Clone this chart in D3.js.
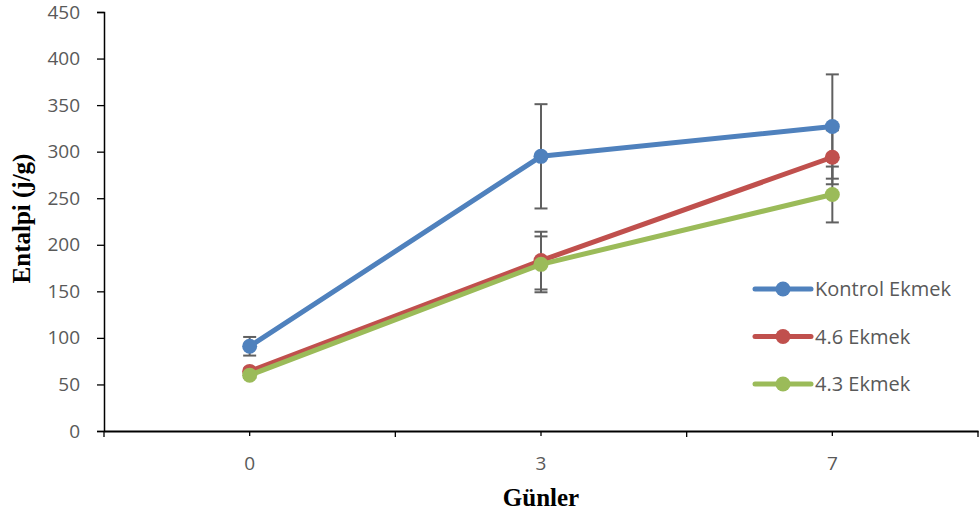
<!DOCTYPE html>
<html>
<head>
<meta charset="utf-8">
<script src="https://cdn.jsdelivr.net/npm/d3@7"></script>
<style>
  html, body { margin: 0; padding: 0; background: #fff; }
</style>
</head>
<body>
<div id="chart"></div>
<script>
// data
var days = ["0", "3", "7"];
var seriesNames = ["Kontrol Ekmek", "4.6 Ekmek", "4.3 Ekmek"];
var kontrolValues = [91, 295, 327];
var kontrolErrors = [10, 56, 56];
var ekmek46Values = [64, 183, 294];
var ekmek46Errors = [3, 31, 29];
var ekmek43Values = [60, 179, 254];
var ekmek43Errors = [3, 30, 30];
var yTicks = [0, 50, 100, 150, 200, 250, 300, 350, 400, 450];

var colors = ["#4f81bd", "#c0504d", "#9bbb59"];

var series = [
    { name: seriesNames[0], values: kontrolValues, errors: kontrolErrors, color: colors[0] },
    { name: seriesNames[1], values: ekmek46Values, errors: ekmek46Errors, color: colors[1] },
    { name: seriesNames[2], values: ekmek43Values, errors: ekmek43Errors, color: colors[2] }
];

var width = 980, height = 515;
var plotLeft = 104, plotRight = 978, plotTop = 12, plotBottom = 431;

var svg = d3.select("#chart")
    .append("svg")
    .attr("width", width)
    .attr("height", height)
    .style("font-family", "'Open Sans', 'Liberation Sans', sans-serif");

// scales
var xScale = d3.scaleBand().domain(days).range([plotLeft, plotRight]).padding(0);
var xPos = function (d) { return xScale(d) + xScale.bandwidth() / 2; };
var yScale = d3.scaleLinear().domain([0, 450]).range([plotBottom, plotTop]);

// y axis
var yAxis = svg.append("g")
    .attr("transform", `translate(${plotLeft}, 0)`)
    .call(d3.axisLeft(yScale).tickValues(yTicks).tickSize(7).tickPadding(17));
yAxis.select(".domain").attr("stroke", "#000").attr("stroke-width", 1.5);
yAxis.selectAll(".tick line").attr("stroke", "#000").attr("stroke-width", 1.3);
yAxis.selectAll(".tick text")
    .style("font-size", "19px")
    .style("font-family", "'Open Sans', sans-serif")
    .attr("fill", "#595959");

// x axis: ticks at categories plus boundary ticks
var xAxis = svg.append("g")
    .attr("transform", `translate(0, ${plotBottom})`)
    .call(d3.axisBottom(xScale).tickSize(5).tickPadding(21).tickSizeOuter(0));
xAxis.select(".domain").attr("stroke", "#000").attr("stroke-width", 2);
xAxis.selectAll(".tick line").attr("stroke", "#000").attr("stroke-width", 1.3);
xAxis.selectAll(".tick text")
    .style("font-size", "19px")
    .style("font-family", "'Open Sans', sans-serif")
    .attr("fill", "#595959");

var boundaries = days.map(function (d) { return xScale(d); }).concat([xScale.range()[1]]);
xAxis.selectAll(".bound")
    .data(boundaries)
    .enter()
    .append("line")
    .attr("class", "bound")
    .attr("x1", d => d).attr("x2", d => d)
    .attr("y1", 0).attr("y2", 6)
    .attr("stroke", "#000")
    .attr("stroke-width", 1.3);

// axis titles
svg.append("text")
    .attr("x", xPos("3"))
    .attr("y", 506)
    .attr("text-anchor", "middle")
    .style("font-family", "'Liberation Serif', 'Times New Roman', serif")
    .style("font-weight", "bold")
    .style("font-size", "25px")
    .text("Günler");

svg.append("text")
    .attr("transform", `translate(30, ${(plotTop + plotBottom) / 2 - 3}) rotate(-90)`)
    .attr("text-anchor", "middle")
    .style("font-family", "'Liberation Serif', 'Times New Roman', serif")
    .style("font-weight", "bold")
    .style("font-size", "25px")
    .text("Entalpi (j/g)");

// error bars
var errG = svg.append("g").attr("class", "errors");
series.forEach(function (s) {
    days.forEach(function (d, i) {
        var x = xPos(d);
        var hi = yScale(s.values[i] + s.errors[i]);
        var lo = yScale(s.values[i] - s.errors[i]);
        errG.append("line")
            .attr("x1", x).attr("x2", x).attr("y1", hi).attr("y2", lo)
            .attr("stroke", "#606060").attr("stroke-width", 2);
        [hi, lo].forEach(function (y) {
            errG.append("line")
                .attr("x1", x - 6.5).attr("x2", x + 6.5).attr("y1", y).attr("y2", y)
                .attr("stroke", "#606060").attr("stroke-width", 2);
        });
    });
});

// lines and markers
var line = d3.line()
    .x(function (d) { return xPos(d.day); })
    .y(function (d) { return yScale(d.value); });

series.forEach(function (s) {
    var pts = days.map(function (d, i) { return { day: d, value: s.values[i] }; });
    svg.append("path")
        .datum(pts)
        .attr("fill", "none")
        .attr("stroke", s.color)
        .attr("stroke-width", 5)
        .attr("stroke-linejoin", "round")
        .attr("d", line);
    svg.selectAll(null)
        .data(pts)
        .enter()
        .append("circle")
        .attr("cx", d => xPos(d.day))
        .attr("cy", d => yScale(d.value))
        .attr("r", 7.5)
        .attr("fill", s.color);
});

// legend
var legend = svg.selectAll(".legend")
    .data(series)
    .enter()
    .append("g")
    .attr("class", "legend")
    .attr("transform", function (d, i) { return `translate(755, ${289 + i * 47.5})`; });

legend.append("line")
    .attr("x1", 0).attr("x2", 56)
    .attr("y1", 0).attr("y2", 0)
    .attr("stroke", d => d.color)
    .attr("stroke-width", 5)
    .attr("stroke-linecap", "round");

legend.append("circle")
    .attr("cx", 28).attr("cy", 0).attr("r", 7.5)
    .attr("fill", d => d.color);

legend.append("text")
    .attr("x", 60)
    .attr("y", 0)
    .attr("dy", "0.35em")
    .style("font-size", "20px")
    .attr("fill", "#595959")
    .text(d => d.name);
</script>
</body>
</html>
